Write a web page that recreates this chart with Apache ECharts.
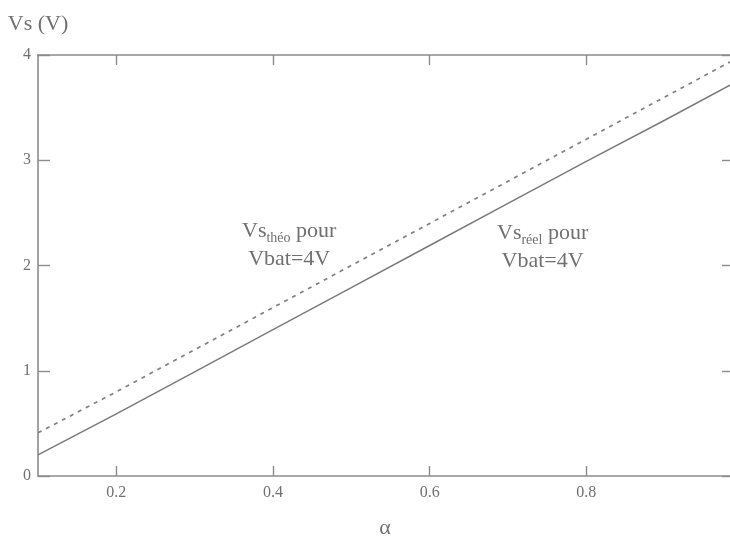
<!DOCTYPE html>
<html>
<head>
<meta charset="utf-8">
<script src="https://cdn.jsdelivr.net/npm/echarts@6/dist/echarts.min.js"></script>
<style>html,body{margin:0;padding:0;background:#fff;}#c{width:730px;height:536px;}</style>
</head>
<body>
<div id="c"></div>
<script>
// data
const alpha = [0.1, 0.2, 0.3, 0.4, 0.5, 0.6, 0.7, 0.8, 0.9, 0.985];
const vsTheo = [0.41, 0.8, 1.2, 1.6, 2.0, 2.4, 2.8, 3.2, 3.6, 3.94];
const vsReel = [0.2, 0.59, 0.99, 1.39, 1.79, 2.19, 2.59, 2.99, 3.38, 3.72];
const xTicks = [0.2, 0.4, 0.6, 0.8];
const yTicks = [0, 1, 2, 3, 4];

const grey = '#8c8c8c';
const txt = '#707070';
const serif = '"Liberation Serif", "DejaVu Serif", serif';

const chart = echarts.init(document.getElementById('c'));
const axisLine = { show: true, onZero: false, lineStyle: { color: grey, width: 1.6 } };
const tickStyle = { color: grey, width: 1.4 };

chart.setOption({
  animation: false,
  backgroundColor: '#fff',
  grid: { left: 38, top: 55, width: 694, bottom: 60, containLabel: false, outerBoundsMode: 'none' },
  xAxis: [
    {
      type: 'value', min: 0.1, max: 0.986, position: 'bottom',
      name: 'α', nameLocation: 'middle', nameGap: 41,
      nameTextStyle: { fontFamily: serif, fontSize: 22, color: txt },
      axisLine: axisLine,
      axisTick: { show: true, inside: true, length: 10, customValues: xTicks, lineStyle: tickStyle },
      axisLabel: { customValues: xTicks, fontFamily: serif, fontSize: 16, color: txt, margin: 9,
        formatter: v => String(v) },
      splitLine: { show: false }
    },
    {
      type: 'value', min: 0.1, max: 0.986, position: 'top',
      axisLine: axisLine,
      axisTick: { show: true, inside: true, length: 10, customValues: xTicks, lineStyle: tickStyle },
      axisLabel: { show: false, customValues: xTicks },
      splitLine: { show: false }
    }
  ],
  yAxis: [
    {
      type: 'value', min: 0, max: 4, interval: 1, position: 'left',
      name: 'Vs (V)', nameLocation: 'end', nameGap: 20,
      nameTextStyle: { fontFamily: serif, fontSize: 22, color: txt, align: 'center' },
      axisLine: axisLine,
      axisTick: { show: true, inside: true, length: 12, lineStyle: tickStyle },
      axisLabel: { fontFamily: serif, fontSize: 16, color: txt, margin: 7,
        formatter: v => (yTicks.includes(v) ? String(v) : '') },
      splitLine: { show: false }
    },
    {
      type: 'value', min: 0, max: 4, interval: 1, position: 'right',
      axisLine: axisLine,
      axisTick: { show: true, inside: true, length: 10, lineStyle: tickStyle },
      axisLabel: { show: false },
      splitLine: { show: false }
    }
  ],
  series: [
    {
      name: 'Vs théo', type: 'line', xAxisIndex: 0, yAxisIndex: 0,
      data: alpha.map((a, i) => [a, vsTheo[i]]),
      showSymbol: false, smooth: false,
      lineStyle: { color: '#808080', width: 1.7, type: [4, 5] }
    },
    {
      name: 'Vs réel', type: 'line', xAxisIndex: 0, yAxisIndex: 0,
      data: alpha.map((a, i) => [a, vsReel[i]]),
      showSymbol: false, smooth: false,
      lineStyle: { color: '#7a7a7a', width: 1.5, type: 'solid' }
    }
  ],
  graphic: [
    {
      type: 'text', left: 242, top: 220,
      style: {
        text: '{m|Vs}{s|théo}{m| pour}\n{c|Vbat=4V}',
        align: 'center',
        rich: {
          m: { fontFamily: serif, fontSize: 22, fill: txt, lineHeight: 28 },
          s: { fontFamily: serif, fontSize: 14, fill: txt, lineHeight: 14, verticalAlign: 'bottom' },
          c: { fontFamily: serif, fontSize: 22, fill: txt, lineHeight: 28, align: 'center' }
        }
      }
    },
    {
      type: 'text', left: 497, top: 222,
      style: {
        text: '{m|Vs}{s|réel}{m| pour}\n{c|Vbat=4V}',
        align: 'center',
        rich: {
          m: { fontFamily: serif, fontSize: 22, fill: txt, lineHeight: 28 },
          s: { fontFamily: serif, fontSize: 14, fill: txt, lineHeight: 14, verticalAlign: 'bottom' },
          c: { fontFamily: serif, fontSize: 22, fill: txt, lineHeight: 28, align: 'center' }
        }
      }
    }
  ]
});
</script>
</body>
</html>
